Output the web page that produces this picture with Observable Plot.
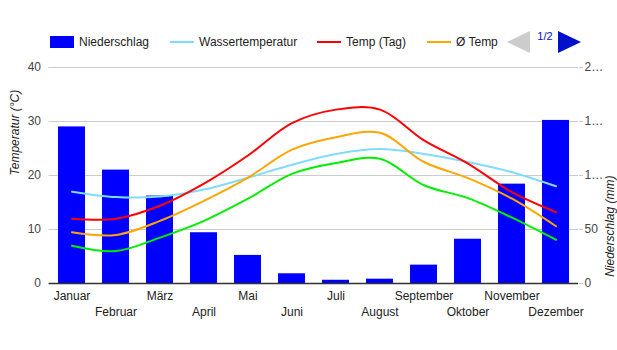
<!DOCTYPE html>
<html>
<head>
<meta charset="utf-8">
<script src="https://cdn.jsdelivr.net/npm/d3@7"></script>
<script src="https://cdn.jsdelivr.net/npm/@observablehq/plot@0.6"></script>
<style>
  body { margin: 0; background: #fff; font-family: Arial, "Liberation Sans", sans-serif; }
  #wrap { position: relative; width: 617px; height: 350px; }
  #legend { position: relative; width: 617px; height: 60px; font-size: 12px; color: #222; }
  #legend .it { position: absolute; top: 35px; height: 14px; line-height: 14px; white-space: nowrap; }
  #legend .sw { position: absolute; }
</style>
</head>
<body>
<div id="wrap">
  <div id="legend"></div>
  <div id="chart"></div>
</div>
<script>
const months = ["Januar","Februar","März","April","Mai","Juni","Juli","August","September","Oktober","November","Dezember"];
const niederschlag = [145, 105, 81, 47, 26, 9, 3, 4, 17, 41, 92, 151];
const wassertemp = [17.0, 16.0, 16.1, 17.4, 19.6, 22.0, 24.0, 24.9, 24.0, 22.5, 20.6, 18.0];
const tempTag = [12.0, 12.0, 14.4, 18.5, 23.7, 29.7, 32.2, 32.2, 26.5, 22.2, 16.9, 13.2];
const tempAvg = [9.5, 9.0, 11.6, 15.3, 19.6, 24.8, 27.1, 27.9, 22.5, 19.5, 15.7, 10.6];
const tempNacht = [7.0, 6.0, 8.5, 11.6, 15.7, 20.3, 22.3, 23.1, 18.2, 15.8, 12.2, 8.1];
const tempTicks = [0, 10, 20, 30, 40];
const precipTicks = [0, 50, 100, 150, 200];
const precipTickLabels = ["0", "50", "1…", "1…", "2…"];
const legendLabels = ["Niederschlag", "Wassertemperatur", "Temp (Tag)", "Ø Temp"];
const colors = {bar: "#0000ff", water: "#80dcff", day: "#ff0000", avg: "#ffa500", night: "#00ee00"};

// legend
const lg = document.getElementById("legend");
const legendItems = [
  {x: 50, label: legendLabels[0], color: colors.bar, kind: "rect"},
  {x: 170, label: legendLabels[1], color: colors.water, kind: "line"},
  {x: 317, label: legendLabels[2], color: colors.day, kind: "line"},
  {x: 427, label: legendLabels[3], color: colors.avg, kind: "line"}
];
for (const it of legendItems) {
  const sw = document.createElement("div");
  sw.className = "sw";
  sw.style.left = it.x + "px";
  sw.style.width = "24px";
  sw.style.background = it.color;
  if (it.kind === "rect") { sw.style.top = "36px"; sw.style.height = "12px"; }
  else { sw.style.top = "41px"; sw.style.height = "2px"; }
  lg.appendChild(sw);
  const t = document.createElement("div");
  t.className = "it";
  t.style.left = (it.x + 29) + "px";
  t.textContent = it.label;
  lg.appendChild(t);
}
const nav = document.createElementNS("http://www.w3.org/2000/svg", "svg");
nav.setAttribute("width", "90"); nav.setAttribute("height", "30");
nav.style.position = "absolute"; nav.style.left = "505px"; nav.style.top = "28px";
nav.innerHTML = '<polygon points="25,3 25,25 2,14" fill="#cccccc"/>' +
  '<text x="40" y="12" text-anchor="middle" font-size="11" fill="#0011cc" font-family="Arial, Liberation Sans, sans-serif">1/2</text>' +
  '<polygon points="53,3 53,25 76,14" fill="#0011cc"/>';
lg.appendChild(nav);

const rows = months.map((m, i) => ({
  month: m, precip: niederschlag[i], water: wassertemp[i], day: tempTag[i], avg: tempAvg[i], night: tempNacht[i]
}));

const chart = Plot.plot({
  width: 617,
  height: 290,
  marginTop: 7,
  marginBottom: 67,
  marginLeft: 48.5,
  marginRight: 39,
  style: {fontFamily: 'Arial, "Liberation Sans", sans-serif', fontSize: "12px", background: "#fff"},
  x: {type: "band", domain: months, paddingInner: 0.38, paddingOuter: 0.2, align: 0.5},
  y: {domain: [0, 40]},
  marks: [
    Plot.gridY(tempTicks.slice(1), {stroke: "#cccccc", strokeOpacity: 1}),
    Plot.barY(rows, {x: "month", y: d => d.precip / 5, fill: colors.bar}),
    Plot.ruleY([0], {stroke: "#333333", strokeWidth: 1.3}),
    Plot.line(rows, {x: "month", y: "water", stroke: colors.water, strokeWidth: 2, curve: "catmull-rom"}),
    Plot.line(rows, {x: "month", y: "night", stroke: colors.night, strokeWidth: 2, curve: "catmull-rom"}),
    Plot.line(rows, {x: "month", y: "avg", stroke: colors.avg, strokeWidth: 2, curve: "catmull-rom"}),
    Plot.line(rows, {x: "month", y: "day", stroke: colors.day, strokeWidth: 2, curve: "catmull-rom"}),
    Plot.axisY(tempTicks, {anchor: "left", tickSize: 0, tickPadding: 8, fill: "#444", label: null, fontSize: 12}),
    Plot.axisY(precipTicks.map(v => v / 5), {anchor: "right", tickSize: 4, stroke: "#cccccc", tickPadding: 2, fill: "#444", label: null, fontSize: 12,
      tickFormat: (v) => precipTickLabels[precipTicks.indexOf(v * 5)]}),
    Plot.axisX(months.filter((d, i) => i % 2 === 0), {tickSize: 0, tickPadding: 8, fill: "#222", label: null, fontSize: 12}),
    Plot.axisX(months.filter((d, i) => i % 2 === 1), {tickSize: 0, tickPadding: 24, fill: "#222", label: null, fontSize: 12}),
    Plot.text(["Temperatur (°C)"], {frameAnchor: "left", dx: -34, rotate: -90, fontStyle: "italic", fill: "#222", fontSize: 12}),
    Plot.text(["Niederschlag (mm)"], {frameAnchor: "right", dx: 32, rotate: -90, fontStyle: "italic", fill: "#222", fontSize: 12})
  ]
});
document.getElementById("chart").appendChild(chart);
</script>
</body>
</html>
